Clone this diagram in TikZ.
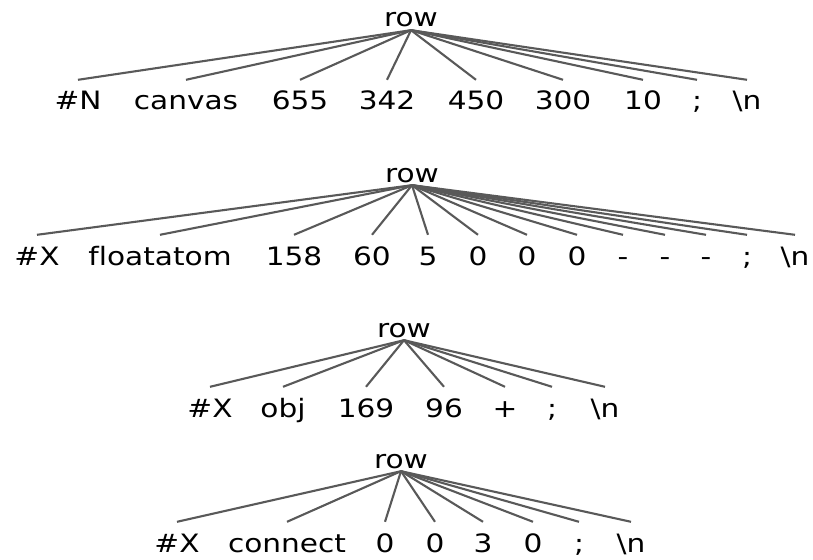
\documentclass[tikz,border=0pt]{standalone}
\usepackage{fontspec}
\newfontfamily\treefont[FakeStretch=1.17,Ligatures=NoCommon]{DejaVu Sans}
\usepackage{tikz}

\newcommand{\treesize}{\treefont\fontsize{25.3}{30}\selectfont}
\tikzset{
	root/.style={font=\treesize,anchor=base,inner xsep=0pt,inner ysep=3pt,text depth=0pt},
	leaf/.style={font=\treesize,anchor=base,inner xsep=0pt,inner ysep=10pt,text height=20pt,text depth=0pt},
	branch/.style={draw=black!65,line width=2.1pt}
}

\begin{document}
\begin{tikzpicture}[x=1pt,y=-1pt]
			\useasboundingbox (0,0) rectangle (813,559);
			%first row: the canvas line
			\node[root] (rowN) at (411,27) {row};
			\node[leaf] (n1) at (78,110) {\#N};
			\node[leaf] (n2) at (186,110) {canvas};
			\node[leaf] (n3) at (300,110) {655};
			\node[leaf] (n4) at (387,110) {342};
			\node[leaf] (n5) at (476,110) {450};
			\node[leaf] (n6) at (563,110) {300};
			\node[leaf] (n7) at (643,110) {10};
			\node[leaf] (n8) at (697,110) {;};
			\node[leaf] (n9) at (747,110) {\textbackslash n};
			\foreach \i in {1,...,9} \draw[branch] (rowN.south)--(n\i.north);
			%second row: floatatom
			\node[root] (rowF) at (412,182) {row};
			\node[leaf] (f1) at (37,265) {\#X};
			\node[leaf] (f2) at (160,265) {floatatom};
			\node[leaf] (f3) at (294,265) {158};
			\node[leaf] (f4) at (372,265) {60};
			\node[leaf] (f5) at (428,265) {5};
			\node[leaf] (f6) at (478,265) {0};
			\node[leaf] (f7) at (527,265) {0};
			\node[leaf] (f8) at (577,265) {0};
			\node[leaf] (f9) at (623,265) {-};
			\node[leaf] (f10) at (665,265) {-};
			\node[leaf] (f11) at (706,265) {-};
			\node[leaf] (f12) at (747,265) {;};
			\node[leaf] (f13) at (795,265) {\textbackslash n};
			\foreach \i in {1,...,13} \draw[branch] (rowF.south)--(f\i.north);
			%third row: obj
			\node[root] (rowO) at (404,337) {row};
			\node[leaf] (o1) at (210,417) {\#X};
			\node[leaf] (o2) at (283,417) {obj};
			\node[leaf] (o3) at (366,417) {169};
			\node[leaf] (o4) at (444,417) {96};
			\node[leaf] (o5) at (505,417) {+};
			\node[leaf] (o6) at (552,417) {;};
			\node[leaf] (o7) at (605,417) {\textbackslash n};
			\foreach \i in {1,...,7} \draw[branch] (rowO.south)--(o\i.north);
			%fourth row: connect
			\node[root] (rowC) at (401,468) {row};
			\node[leaf] (c1) at (177,552) {\#X};
			\node[leaf] (c2) at (287,552) {connect};
			\node[leaf] (c3) at (385,552) {0};
			\node[leaf] (c4) at (435,552) {0};
			\node[leaf] (c5) at (483,552) {3};
			\node[leaf] (c6) at (533,552) {0};
			\node[leaf] (c7) at (579,552) {;};
			\node[leaf] (c8) at (631,552) {\textbackslash n};
			\foreach \i in {1,...,8} \draw[branch] (rowC.south)--(c\i.north);
		\end{tikzpicture}
\end{document}
